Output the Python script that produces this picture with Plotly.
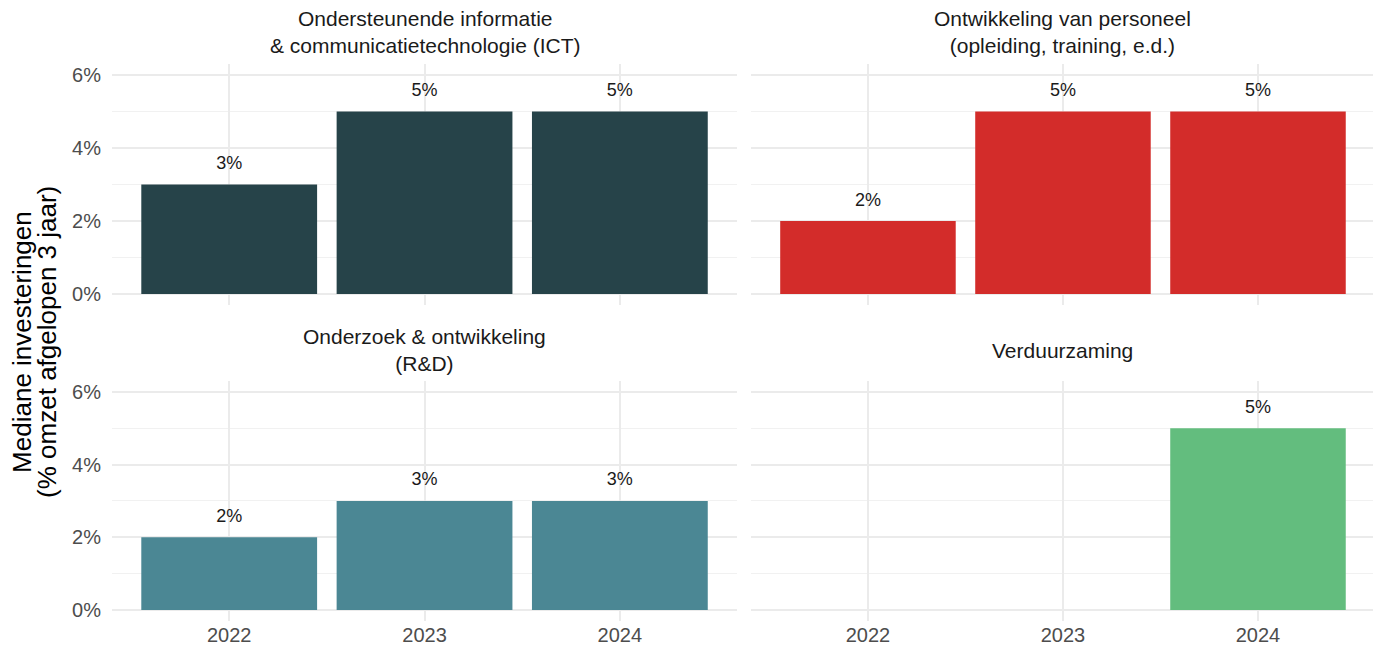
import plotly.graph_objects as go

YEARS = ["2022", "2023", "2024"]

PANEL_TITLES = [
    "Ondersteunende informatie<br>& communicatietechnologie (ICT)",
    "Ontwikkeling van personeel<br>(opleiding, training, e.d.)",
    "Onderzoek & ontwikkeling<br>(R&D)",
    "Verduurzaming",
]
ICT = [3, 5, 5]
PERSONEEL = [2, 5, 5]
RND = [2, 3, 3]
VERDUURZAMING = [None, None, 5]

Y_TICKS = [0, 2, 4, 6]
Y_TICKTEXT = ["0%", "2%", "4%", "6%"]
Y_MINOR = [1, 3, 5]

PANEL_COLORS = ["#264349", "#d32c2a", "#4b8794", "#63bd7e"]

FONT = "Liberation Sans, Arial, sans-serif"
GRID = "#ebebeb"

fig = go.Figure()

series = [ICT, PERSONEEL, RND, VERDUURZAMING]
# (xaxis, yaxis) ids for the 2x2 facets
axes = [("x", "y"), ("x2", "y2"), ("x3", "y3"), ("x4", "y4")]

for vals, color, (xa, ya) in zip(series, PANEL_COLORS, axes):
    fig.add_trace(
        go.Bar(
            x=YEARS,
            y=vals,
            marker=dict(color=color, line=dict(width=0)),
            width=0.9,
            xaxis=xa,
            yaxis=ya,
            showlegend=False,
            hoverinfo="skip",
        )
    )
    # value labels above the bars
    fig.add_trace(
        go.Scatter(
            x=YEARS,
            y=vals,
            mode="markers+text",
            text=[f"{v}%" if v is not None else "" for v in vals],
            textposition="top center",
            textfont=dict(family=FONT, size=18, color="#1a1a1a"),
            marker=dict(size=16, opacity=0),
            cliponaxis=False,
            xaxis=xa,
            yaxis=ya,
            showlegend=False,
            hoverinfo="skip",
        )
    )

x_left = [0, 0.4949]
x_right = [0.5059, 1]
y_top = [0.5673, 1]
y_bot = [0, 0.4309]

common_x = dict(
    type="category",
    categoryarray=YEARS,
    range=[-0.6, 2.6],
    showgrid=True,
    gridcolor=GRID,
    gridwidth=2,
    zeroline=False,
    showline=False,
    ticks="",
    tickfont=dict(family=FONT, size=20, color="#4d4d4d"),
)
common_y = dict(
    range=[-0.3, 6.3],
    tickmode="array",
    tickvals=Y_TICKS,
    ticktext=Y_TICKTEXT,
    showgrid=True,
    gridcolor=GRID,
    gridwidth=2,
    minor=dict(tickmode="array", tickvals=Y_MINOR, showgrid=True,
               gridcolor="#f1f1f1", gridwidth=1),
    zeroline=False,
    showline=False,
    ticks="",
    ticklabelstandoff=10,
    tickfont=dict(family=FONT, size=20, color="#4d4d4d"),
)

fig.update_layout(
    width=1381,
    height=651,
    margin=dict(l=104, r=14, t=56, b=38),
    plot_bgcolor="white",
    paper_bgcolor="white",
    bargap=0.1,
    xaxis=dict(common_x, domain=x_left, anchor="y", showticklabels=False),
    yaxis=dict(common_y, domain=y_top, anchor="x"),
    xaxis2=dict(common_x, domain=x_right, anchor="y2", showticklabels=False),
    yaxis2=dict(common_y, domain=y_top, anchor="x2", showticklabels=False),
    xaxis3=dict(common_x, domain=x_left, anchor="y3"),
    yaxis3=dict(common_y, domain=y_bot, anchor="x3"),
    xaxis4=dict(common_x, domain=x_right, anchor="y4"),
    yaxis4=dict(common_y, domain=y_bot, anchor="x4", showticklabels=False),
)

# facet strip titles, vertically centred in a shared strip per row
strip_top = 1.0575
strip_bot = 0.4865
title_pos = [
    (sum(x_left) / 2, strip_top),
    (sum(x_right) / 2, strip_top),
    (sum(x_left) / 2, strip_bot),
    (sum(x_right) / 2, strip_bot),
]
for title, (px, py) in zip(PANEL_TITLES, title_pos):
    fig.add_annotation(
        x=px,
        y=py,
        xref="paper",
        yref="paper",
        xanchor="center",
        yanchor="middle",
        text=title,
        showarrow=False,
        font=dict(family=FONT, size=21, color="#1a1a1a"),
    )

# y axis title shared by the facets (two lines, tight spacing)
for line, px in [("Mediane investeringen", -0.0713),
                 ("(% omzet afgelopen 3 jaar)", -0.0515)]:
    fig.add_annotation(
        x=px,
        y=0.501,
        xref="paper",
        yref="paper",
        xanchor="center",
        yanchor="middle",
        text=line,
        textangle=-90,
        showarrow=False,
        font=dict(family=FONT, size=26, color="#000000"),
    )

fig.write_html("out.html")
